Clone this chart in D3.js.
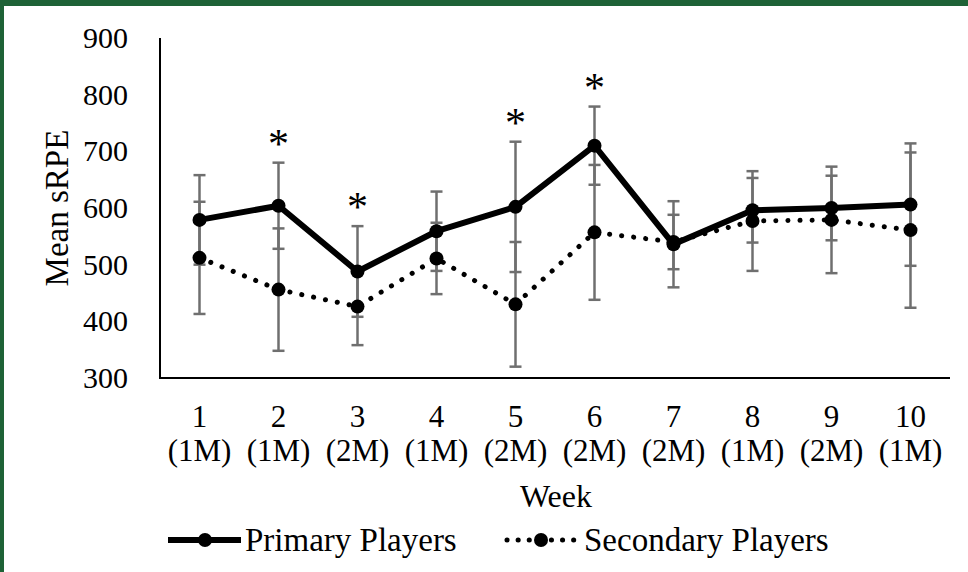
<!DOCTYPE html>
<html><head><meta charset="utf-8">
<script src="https://cdn.jsdelivr.net/npm/d3@7"></script>
<style>
html,body{margin:0;padding:0;background:#fff;}
svg{display:block;}
text{font-family:"Liberation Serif","Times New Roman",serif;fill:#000;}
</style></head>
<body>
<script>
const weeks = ["1","2","3","4","5","6","7","8","9","10"];
const phases = ["(1M)","(1M)","(2M)","(1M)","(2M)","(2M)","(2M)","(1M)","(2M)","(1M)"];
const primaryMean = [579, 604, 488, 559, 602, 710, 536, 596, 600, 606];
const primarySD   = [79, 76, 80, 70, 115, 69, 76, 57, 57, 108];
const secondaryMean = [512, 456, 426, 511, 430, 557, 540, 577, 579, 561];
const secondarySD   = [99, 108, 68, 63, 110, 119, 48, 88, 94, 137];
const significant = [false, true, true, false, true, true, false, false, false, false];
const yTicks = [300, 400, 500, 600, 700, 800, 900];

const W = 968, H = 572;
const svg = d3.select("body").append("svg").attr("width", W).attr("height", H);

// frame
svg.append("rect").attr("x",0).attr("y",0).attr("width",W).attr("height",6).attr("fill","#1e6236");
svg.append("rect").attr("x",0).attr("y",0).attr("width",4).attr("height",H).attr("fill","#1e6236");

const x = d3.scaleBand().domain(weeks).range([160, 950]);
const y = d3.scaleLinear().domain([300, 900]).range([378, 38]);
const cx = d => x(d) + x.bandwidth()/2;

// y axis labels
const yAxis = d3.axisLeft(y).tickValues(yTicks).tickSize(0).tickPadding(0);
const gy = svg.append("g").attr("transform","translate(128,0)").call(yAxis);
gy.select(".domain").remove();
gy.selectAll("text").style("font-size","30px").style("font-family","Liberation Serif").attr("fill","#000");

// axis lines
svg.append("line").attr("x1",160).attr("x2",160).attr("y1",y(900)).attr("y2",y(300)).attr("stroke","#000").attr("stroke-width",2);
svg.append("line").attr("x1",159).attr("x2",950).attr("y1",y(300)).attr("y2",y(300)).attr("stroke","#000").attr("stroke-width",2);

// x tick labels
const xl = svg.append("g");
weeks.forEach((w,i)=>{
  xl.append("text").attr("x",cx(w)).attr("y",427).attr("text-anchor","middle").style("font-size","31px").text(w);
  xl.append("text").attr("x",cx(w)).attr("y",461).attr("text-anchor","middle").style("font-size","31px").text(phases[i]);
});

// titles
svg.append("text").attr("x",556).attr("y",507).attr("text-anchor","middle").style("font-size","32px").text("Week");
svg.append("text").attr("transform","translate(68,208) rotate(-90)").attr("text-anchor","middle").style("font-size","33px").text("Mean sRPE");

// error bars
function errBars(mean, sd){
  const g = svg.append("g").attr("stroke","#6f6f6f").attr("stroke-width",2.5);
  weeks.forEach((w,i)=>{
    const X = cx(w), t = y(mean[i]+sd[i]), b = y(mean[i]-sd[i]);
    g.append("line").attr("x1",X).attr("x2",X).attr("y1",t).attr("y2",b);
    g.append("line").attr("x1",X-6).attr("x2",X+6).attr("y1",t).attr("y2",t);
    g.append("line").attr("x1",X-6).attr("x2",X+6).attr("y1",b).attr("y2",b);
  });
}
errBars(secondaryMean, secondarySD);
errBars(primaryMean, primarySD);

const line = d3.line().x((d,i)=>cx(weeks[i])).y(d=>y(d));

// secondary
svg.append("path").datum(secondaryMean).attr("d",line).attr("fill","none").attr("stroke","#000")
  .attr("stroke-width",5).attr("stroke-linecap","round").attr("stroke-dasharray","0.1 12");
svg.append("g").selectAll("circle").data(secondaryMean).join("circle")
  .attr("cx",(d,i)=>cx(weeks[i])).attr("cy",d=>y(d)).attr("r",7).attr("fill","#000");

// primary
svg.append("path").datum(primaryMean).attr("d",line).attr("fill","none").attr("stroke","#000")
  .attr("stroke-width",6).attr("stroke-linejoin","round");
svg.append("g").selectAll("circle").data(primaryMean).join("circle")
  .attr("cx",(d,i)=>cx(weeks[i])).attr("cy",d=>y(d)).attr("r",7).attr("fill","#000");

// significance asterisks
weeks.forEach((w,i)=>{
  if(significant[i]){
    svg.append("text").attr("x",cx(w)).attr("y",y(primaryMean[i]+primarySD[i]) - 5)
      .attr("text-anchor","middle").style("font-size","42px").text("*");
  }
});

// legend
const ly = 540;
svg.append("line").attr("x1",168).attr("x2",241).attr("y1",ly).attr("y2",ly).attr("stroke","#000").attr("stroke-width",6);
svg.append("circle").attr("cx",205).attr("cy",ly).attr("r",7).attr("fill","#000");
svg.append("text").attr("x",245).attr("y",ly+11).style("font-size","33px").text("Primary Players");
svg.append("line").attr("x1",507).attr("x2",578).attr("y1",ly).attr("y2",ly).attr("stroke","#000")
  .attr("stroke-width",5).attr("stroke-linecap","round").attr("stroke-dasharray","0.1 11");
svg.append("circle").attr("cx",541).attr("cy",ly).attr("r",7).attr("fill","#000");
svg.append("text").attr("x",584).attr("y",ly+11).style("font-size","33px").text("Secondary Players");
</script>
</body></html>
